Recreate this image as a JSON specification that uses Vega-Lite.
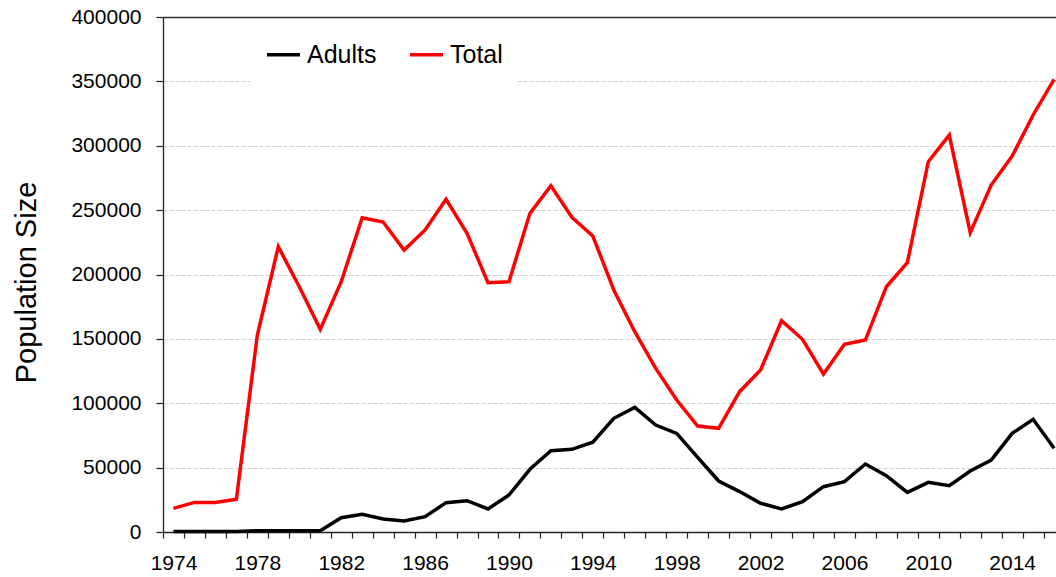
{
  "$schema": "https://vega.github.io/schema/vega-lite/v6.json",
  "autosize": "none",
  "padding": {"left": 163, "top": 17, "right": 0, "bottom": 45},
  "width": 893,
  "height": 515,
  "background": "white",
  "config": {
    "font": "Liberation Sans",
    "view": {"stroke": null}
  },
  "data": {
    "values": [
      {"Year": 1974, "Adults": 300, "Total": 18400},
      {"Year": 1975, "Adults": 300, "Total": 23000},
      {"Year": 1976, "Adults": 300, "Total": 23000},
      {"Year": 1977, "Adults": 300, "Total": 25400},
      {"Year": 1978, "Adults": 1000, "Total": 153000},
      {"Year": 1979, "Adults": 1000, "Total": 221600},
      {"Year": 1980, "Adults": 1000, "Total": 190500},
      {"Year": 1981, "Adults": 1000, "Total": 157400},
      {"Year": 1982, "Adults": 11100, "Total": 194400},
      {"Year": 1983, "Adults": 13700, "Total": 244100},
      {"Year": 1984, "Adults": 10100, "Total": 240800},
      {"Year": 1985, "Adults": 8500, "Total": 219000},
      {"Year": 1986, "Adults": 11900, "Total": 234600},
      {"Year": 1987, "Adults": 22800, "Total": 258400},
      {"Year": 1988, "Adults": 24300, "Total": 232000},
      {"Year": 1989, "Adults": 17900, "Total": 193600},
      {"Year": 1990, "Adults": 28700, "Total": 194400},
      {"Year": 1991, "Adults": 48700, "Total": 247500},
      {"Year": 1992, "Adults": 63200, "Total": 269000},
      {"Year": 1993, "Adults": 64200, "Total": 244400},
      {"Year": 1994, "Adults": 69700, "Total": 229900},
      {"Year": 1995, "Adults": 88300, "Total": 188000},
      {"Year": 1996, "Adults": 96800, "Total": 155600},
      {"Year": 1997, "Adults": 83100, "Total": 127100},
      {"Year": 1998, "Adults": 76600, "Total": 102500},
      {"Year": 1999, "Adults": 58000, "Total": 82300},
      {"Year": 2000, "Adults": 39600, "Total": 80500},
      {"Year": 2001, "Adults": 31400, "Total": 109000},
      {"Year": 2002, "Adults": 22300, "Total": 125800},
      {"Year": 2003, "Adults": 17900, "Total": 164100},
      {"Year": 2004, "Adults": 23500, "Total": 149700},
      {"Year": 2005, "Adults": 35200, "Total": 122700},
      {"Year": 2006, "Adults": 39100, "Total": 145800},
      {"Year": 2007, "Adults": 52800, "Total": 149100},
      {"Year": 2008, "Adults": 43700, "Total": 190500},
      {"Year": 2009, "Adults": 30800, "Total": 209200},
      {"Year": 2010, "Adults": 38600, "Total": 287600},
      {"Year": 2011, "Adults": 36000, "Total": 308300},
      {"Year": 2012, "Adults": 47400, "Total": 232500},
      {"Year": 2013, "Adults": 55900, "Total": 269500},
      {"Year": 2014, "Adults": 76600, "Total": 292000},
      {"Year": 2015, "Adults": 87500, "Total": 323900},
      {"Year": 2016, "Adults": 65000, "Total": 351600}
    ]
  },
  "transform": [
    {"fold": ["Adults", "Total"], "as": ["Series", "Population"]}
  ],
  "mark": {"type": "line", "strokeWidth": 3.5, "clip": false},
  "encoding": {
    "x": {
      "field": "Year",
      "type": "quantitative",
      "scale": {"domain": [1973.5, 2016.09], "nice": false, "zero": false},
      "axis": {
        "title": null,
        "grid": false,
        "values": [1973.5, 1974.5, 1975.5, 1976.5, 1977.5, 1978.5, 1979.5, 1980.5, 1981.5, 1982.5, 1983.5, 1984.5, 1985.5, 1986.5, 1987.5, 1988.5, 1989.5, 1990.5, 1991.5, 1992.5, 1993.5, 1994.5, 1995.5, 1996.5, 1997.5, 1998.5, 1999.5, 2000.5, 2001.5, 2002.5, 2003.5, 2004.5, 2005.5, 2006.5, 2007.5, 2008.5, 2009.5, 2010.5, 2011.5, 2012.5, 2013.5, 2014.5, 2015.5],
        "labelExpr": "(datum.value + 0.5 - 1974) % 4 == 0 ? format(datum.value + 0.5, 'd') : ''",
        "labelOffset": 10.5,
        "labelOverlap": false,
        "labelBound": false,
        "labelFlush": false,
        "labelFontSize": 21,
        "labelColor": "black",
        "labelPadding": 14,
        "tickSize": 6,
        "tickColor": "#222",
        "tickWidth": 1.2,
        "domainColor": "#222",
        "domainWidth": 1.3
      }
    },
    "y": {
      "field": "Population",
      "type": "quantitative",
      "scale": {"domain": [0, 400000], "nice": false},
      "axis": {
        "title": "Population Size",
        "titleFontSize": 29,
        "titleFontWeight": "normal",
        "titleColor": "black",
        "titleAngle": -90,
        "titleBaseline": "middle",
        "titleAlign": "center",
        "titleX": -137,
        "titleY": 265,
        "values": [0, 50000, 100000, 150000, 200000, 250000, 300000, 350000, 400000],
        "format": "d",
        "labelFontSize": 21,
        "labelColor": "black",
        "labelPadding": 15,
        "tickSize": 7,
        "tickColor": "#222",
        "tickWidth": 1.2,
        "domainColor": "#222",
        "domainWidth": 1.3,
        "grid": true,
        "gridColor": {"condition": {"test": "datum.value == 400000", "value": "#333"}, "value": "#cfcfcf"},
        "gridDash": {"condition": {"test": "datum.value == 400000", "value": []}, "value": [4, 2]},
        "gridWidth": {"condition": {"test": "datum.value == 400000", "value": 1.3}, "value": 1}
      }
    },
    "color": {
      "field": "Series",
      "type": "nominal",
      "scale": {"domain": ["Adults", "Total"], "range": ["black", "#ff0000"]},
      "legend": {
        "title": null,
        "orient": "none",
        "direction": "horizontal",
        "legendX": 87,
        "legendY": 4,
        "fillColor": "white",
        "padding": 15,
        "symbolType": "stroke",
        "symbolSize": 1089,
        "symbolStrokeWidth": 3.5,
        "labelFontSize": 25,
        "labelColor": "black",
        "labelOffset": 5,
        "columnPadding": 26
      }
    }
  }
}
